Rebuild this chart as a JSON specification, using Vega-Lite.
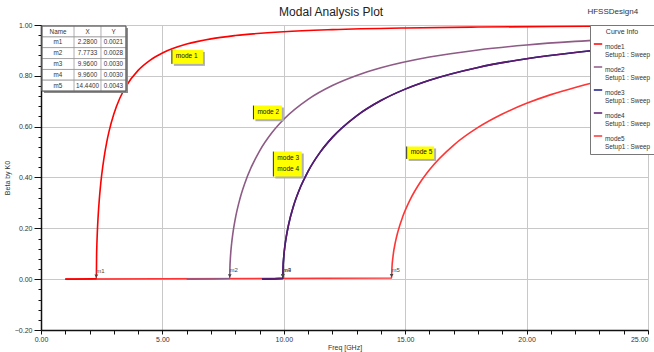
{
  "$schema": "https://vega.github.io/schema/vega-lite/v6.json",
  "width": 607,
  "height": 305,
  "autosize": {"type": "none"},
  "padding": {"left": 41, "top": 25, "right": 6, "bottom": 22},
  "background": "white",
  "config": {
    "font": "Liberation Sans",
    "view": {"stroke": "#999"},
    "axis": {"labelFont": "Liberation Sans", "titleFont": "Liberation Sans", "labelFontSize": 7, "titleFontSize": 7, "titleFontWeight": "normal", "labelColor": "#333", "titleColor": "#333", "domainColor": "#111", "domainWidth": 1.5, "tickColor": "#111"}
  },
  "resolve": {"axis": {"x": "independent", "y": "independent"}},
  "datasets": {
    "curves": [
      {"mode": "mode1", "f": 1.0, "beta": 0},
      {"mode": "mode1", "f": 2.28, "beta": 0.0021},
      {"mode": "mode1", "f": 2.29, "beta": 0.0934},
      {"mode": "mode1", "f": 2.30, "beta": 0.1316},
      {"mode": "mode1", "f": 2.32, "beta": 0.1849},
      {"mode": "mode1", "f": 2.35, "beta": 0.2423},
      {"mode": "mode1", "f": 2.40, "beta": 0.3122},
      {"mode": "mode1", "f": 2.45, "beta": 0.3660},
      {"mode": "mode1", "f": 2.5, "beta": 0.4102},
      {"mode": "mode1", "f": 2.6, "beta": 0.4806},
      {"mode": "mode1", "f": 2.7, "beta": 0.5356},
      {"mode": "mode1", "f": 2.8, "beta": 0.5805},
      {"mode": "mode1", "f": 3.0, "beta": 0.6499},
      {"mode": "mode1", "f": 3.25, "beta": 0.7126},
      {"mode": "mode1", "f": 3.5, "beta": 0.7587},
      {"mode": "mode1", "f": 4.0, "beta": 0.8216},
      {"mode": "mode1", "f": 4.5, "beta": 0.8621},
      {"mode": "mode1", "f": 5.0, "beta": 0.8900},
      {"mode": "mode1", "f": 6.0, "beta": 0.9250},
      {"mode": "mode1", "f": 7.0, "beta": 0.9455},
      {"mode": "mode1", "f": 8.0, "beta": 0.9585},
      {"mode": "mode1", "f": 10.0, "beta": 0.9737},
      {"mode": "mode1", "f": 12.0, "beta": 0.9818},
      {"mode": "mode1", "f": 15.0, "beta": 0.9884},
      {"mode": "mode1", "f": 18.0, "beta": 0.9919},
      {"mode": "mode1", "f": 21.0, "beta": 0.9941},
      {"mode": "mode1", "f": 25.0, "beta": 0.9958},
      {"mode": "mode2", "f": 6.0, "beta": 0},
      {"mode": "mode2", "f": 7.7733, "beta": 0.0028},
      {"mode": "mode2", "f": 7.78, "beta": 0.0415},
      {"mode": "mode2", "f": 7.80, "beta": 0.0827},
      {"mode": "mode2", "f": 7.85, "beta": 0.1395},
      {"mode": "mode2", "f": 7.9, "beta": 0.1784},
      {"mode": "mode2", "f": 8.0, "beta": 0.2364},
      {"mode": "mode2", "f": 8.2, "beta": 0.3184},
      {"mode": "mode2", "f": 8.5, "beta": 0.4046},
      {"mode": "mode2", "f": 9.0, "beta": 0.5040},
      {"mode": "mode2", "f": 9.5, "beta": 0.5749},
      {"mode": "mode2", "f": 10.0, "beta": 0.6291},
      {"mode": "mode2", "f": 11.0, "beta": 0.7075},
      {"mode": "mode2", "f": 12.0, "beta": 0.7618},
      {"mode": "mode2", "f": 13.0, "beta": 0.8015},
      {"mode": "mode2", "f": 14.0, "beta": 0.8317},
      {"mode": "mode2", "f": 16.0, "beta": 0.8741},
      {"mode": "mode2", "f": 18.0, "beta": 0.9019},
      {"mode": "mode2", "f": 20.0, "beta": 0.9214},
      {"mode": "mode2", "f": 22.0, "beta": 0.9355},
      {"mode": "mode2", "f": 25.0, "beta": 0.9504},
      {"mode": "mode3", "f": 9.1, "beta": 0},
      {"mode": "mode3", "f": 9.96, "beta": 0.0030},
      {"mode": "mode3", "f": 9.97, "beta": 0.0448},
      {"mode": "mode3", "f": 10.0, "beta": 0.0894},
      {"mode": "mode3", "f": 10.05, "beta": 0.1335},
      {"mode": "mode3", "f": 10.1, "beta": 0.1659},
      {"mode": "mode3", "f": 10.2, "beta": 0.2157},
      {"mode": "mode3", "f": 10.4, "beta": 0.2878},
      {"mode": "mode3", "f": 10.7, "beta": 0.3654},
      {"mode": "mode3", "f": 11.0, "beta": 0.4244},
      {"mode": "mode3", "f": 11.5, "beta": 0.4999},
      {"mode": "mode3", "f": 12.0, "beta": 0.5578},
      {"mode": "mode3", "f": 13.0, "beta": 0.6427},
      {"mode": "mode3", "f": 14.0, "beta": 0.7028},
      {"mode": "mode3", "f": 15.0, "beta": 0.7477},
      {"mode": "mode3", "f": 16.0, "beta": 0.7826},
      {"mode": "mode3", "f": 18.0, "beta": 0.8330},
      {"mode": "mode3", "f": 20.0, "beta": 0.8672},
      {"mode": "mode3", "f": 22.0, "beta": 0.8916},
      {"mode": "mode3", "f": 25.0, "beta": 0.9172},
      {"mode": "mode4", "f": 9.1, "beta": 0},
      {"mode": "mode4", "f": 9.96, "beta": 0.0030},
      {"mode": "mode4", "f": 9.97, "beta": 0.0448},
      {"mode": "mode4", "f": 10.0, "beta": 0.0894},
      {"mode": "mode4", "f": 10.05, "beta": 0.1335},
      {"mode": "mode4", "f": 10.1, "beta": 0.1659},
      {"mode": "mode4", "f": 10.2, "beta": 0.2157},
      {"mode": "mode4", "f": 10.4, "beta": 0.2878},
      {"mode": "mode4", "f": 10.7, "beta": 0.3654},
      {"mode": "mode4", "f": 11.0, "beta": 0.4244},
      {"mode": "mode4", "f": 11.5, "beta": 0.4999},
      {"mode": "mode4", "f": 12.0, "beta": 0.5578},
      {"mode": "mode4", "f": 13.0, "beta": 0.6427},
      {"mode": "mode4", "f": 14.0, "beta": 0.7028},
      {"mode": "mode4", "f": 15.0, "beta": 0.7477},
      {"mode": "mode4", "f": 16.0, "beta": 0.7826},
      {"mode": "mode4", "f": 18.0, "beta": 0.8330},
      {"mode": "mode4", "f": 20.0, "beta": 0.8672},
      {"mode": "mode4", "f": 22.0, "beta": 0.8916},
      {"mode": "mode4", "f": 25.0, "beta": 0.9172},
      {"mode": "mode5", "f": 1.0, "beta": 0},
      {"mode": "mode5", "f": 14.44, "beta": 0.0043},
      {"mode": "mode5", "f": 14.45, "beta": 0.0372},
      {"mode": "mode5", "f": 14.5, "beta": 0.0909},
      {"mode": "mode5", "f": 14.6, "beta": 0.1476},
      {"mode": "mode5", "f": 14.7, "beta": 0.1872},
      {"mode": "mode5", "f": 14.9, "beta": 0.2466},
      {"mode": "mode5", "f": 15.2, "beta": 0.3122},
      {"mode": "mode5", "f": 15.6, "beta": 0.3784},
      {"mode": "mode5", "f": 16.0, "beta": 0.4307},
      {"mode": "mode5", "f": 17.0, "beta": 0.5277},
      {"mode": "mode5", "f": 18.0, "beta": 0.5970},
      {"mode": "mode5", "f": 19.0, "beta": 0.6499},
      {"mode": "mode5", "f": 20.0, "beta": 0.6919},
      {"mode": "mode5", "f": 21.0, "beta": 0.7261},
      {"mode": "mode5", "f": 22.0, "beta": 0.7544},
      {"mode": "mode5", "f": 23.0, "beta": 0.7784},
      {"mode": "mode5", "f": 24.0, "beta": 0.7988},
      {"mode": "mode5", "f": 25.0, "beta": 0.8163}
    ],
    "markers": [
      {"m": "m1", "f": 2.28, "beta": 0.0021},
      {"m": "m2", "f": 7.7733, "beta": 0.0028},
      {"m": "m3", "f": 9.96, "beta": 0.0030},
      {"m": "m4", "f": 9.96, "beta": 0.0030},
      {"m": "m5", "f": 14.44, "beta": 0.0043}
    ],
    "notes": [
      {"label": "mode 1", "x1": 5.39, "x2": 6.67, "y1": 0.902, "y2": 0.847},
      {"label": "mode 2", "x1": 8.75, "x2": 9.92, "y1": 0.683, "y2": 0.629},
      {"label": "mode 3\nmode 4", "x1": 9.57, "x2": 10.74, "y1": 0.502, "y2": 0.404},
      {"label": "mode 5", "x1": 15.06, "x2": 16.19, "y1": 0.522, "y2": 0.473}
    ],
    "table": [
      {"Name": "Name", "X": "X", "Y": "Y", "top": 0.996, "bottom": 0.953},
      {"Name": "m1", "X": "2.2800", "Y": "0.0021", "top": 0.953, "bottom": 0.911},
      {"Name": "m2", "X": "7.7733", "Y": "0.0028", "top": 0.911, "bottom": 0.868},
      {"Name": "m3", "X": "9.9600", "Y": "0.0030", "top": 0.868, "bottom": 0.825},
      {"Name": "m4", "X": "9.9600", "Y": "0.0030", "top": 0.825, "bottom": 0.783},
      {"Name": "m5", "X": "14.4400", "Y": "0.0043", "top": 0.783, "bottom": 0.740}
    ],
    "titles": [
      {"t": "Modal Analysis Plot", "x": 11.95, "y": 1.051, "size": "big"},
      {"t": "HFSSDesign4", "x": 23.55, "y": 1.051, "size": "small"}
    ]
  },
  "layer": [
    {
      "data": {"name": "curves"},
      "transform": [{"filter": "datum.mode == 'mode5'"}],
      "mark": {"type": "line", "strokeWidth": 1.6, "interpolate": "monotone"},
      "encoding": {
        "x": {"field": "f", "type": "quantitative", "scale": {"domain": [0, 25], "nice": false, "zero": false},
          "axis": {"title": "Freq [GHz]", "orient": "bottom", "values": [0, 5, 10, 15, 20, 25], "format": ".2f",
            "labelOverlap": false, "labelBound": false, "labelFlush": false,
            "labelAlign": {"condition": {"test": "datum.value >= 25", "value": "right"}, "value": "center"},
            "tickSize": 4, "labelPadding": 1, "titlePadding": 1, "gridColor": "#c8c8c8", "zindex": 0}},
        "y": {"field": "beta", "type": "quantitative", "scale": {"domain": [-0.2, 1.0], "nice": false, "zero": false},
          "axis": {"title": "Beta by K0", "orient": "left", "values": [-0.2, 0, 0.2, 0.4, 0.6, 0.8, 1.0], "format": ".2f",
            "labelOverlap": false, "labelBound": false, "labelFlush": false,
            "tickSize": 7, "labelPadding": 2, "titlePadding": 4, "gridColor": "#c8c8c8", "zindex": 0}},
        "color": {"field": "mode", "type": "nominal",
          "scale": {"domain": ["mode1", "mode2", "mode3", "mode4", "mode5"], "range": ["#ff0000", "#8e5a86", "#1a1a8c", "#5c1a6c", "#ff3535"]},
          "legend": {"orient": "none", "legendX": 549, "legendY": 0, "title": "Curve Info", "titleFontSize": 7, "titleFontWeight": "normal", "titleColor": "#333", "titleAnchor": "middle", "titlePadding": 4,
            "fillColor": "white", "strokeColor": "#777", "padding": 3, "labelFontSize": 6.4, "labelColor": "#333", "labelLimit": 80,
            "labelExpr": "[datum.label, 'Setup1 : Sweep']", "symbolType": "stroke", "symbolStrokeWidth": 1.5, "symbolSize": 70, "rowPadding": 3, "labelOffset": 2, "labelBaseline": "top"}}
      }
    },
    {
      "data": {"name": "curves"},
      "transform": [{"filter": "datum.mode != 'mode5'"}],
      "mark": {"type": "line", "strokeWidth": 1.6, "interpolate": "monotone"},
      "encoding": {
        "x": {"field": "f", "type": "quantitative",
          "axis": {"title": null, "orient": "bottom", "values": [1,2,3,4,6,7,8,9,11,12,13,14,16,17,18,19,21,22,23,24], "labels": false, "domain": false, "tickSize": 4, "gridColor": "#e3e3e3", "zindex": 0}},
        "y": {"field": "beta", "type": "quantitative",
          "axis": {"title": null, "orient": "left", "values": [-0.16,-0.12,-0.08,-0.04,0.04,0.08,0.12,0.16,0.24,0.28,0.32,0.36,0.44,0.48,0.52,0.56,0.64,0.68,0.72,0.76,0.84,0.88,0.92,0.96], "labels": false, "domain": false, "tickSize": 3, "gridColor": "#e3e3e3", "zindex": 0}},
        "color": {"field": "mode", "type": "nominal"}
      }
    },
    {
      "data": {"name": "markers"},
      "mark": {"type": "point", "shape": "triangle-down", "filled": true, "size": 14, "color": "#444", "yOffset": -2.5, "opacity": 1},
      "encoding": {"x": {"field": "f", "type": "quantitative", "axis": null}, "y": {"field": "beta", "type": "quantitative", "axis": null}}
    },
    {
      "data": {"name": "markers"},
      "mark": {"type": "text", "fontSize": 6, "color": "#444", "dx": 4, "dy": -8},
      "encoding": {"x": {"field": "f", "type": "quantitative", "axis": null}, "y": {"field": "beta", "type": "quantitative", "axis": null}, "text": {"field": "m"}}
    },
    {
      "data": {"name": "notes"},
      "mark": {"type": "rect", "color": "#b0b0b0", "xOffset": 2, "x2Offset": 2, "yOffset": 2, "y2Offset": 2},
      "encoding": {"x": {"field": "x1", "type": "quantitative", "axis": null}, "x2": {"field": "x2"}, "y": {"field": "y1", "type": "quantitative", "axis": null}, "y2": {"field": "y2"}}
    },
    {
      "data": {"name": "notes"},
      "mark": {"type": "rect", "color": "#ffff00"},
      "encoding": {"x": {"field": "x1", "type": "quantitative", "axis": null}, "x2": {"field": "x2"}, "y": {"field": "y1", "type": "quantitative", "axis": null}, "y2": {"field": "y2"}}
    },
    {
      "data": {"name": "notes"},
      "mark": {"type": "rule", "color": "#333", "strokeWidth": 1},
      "encoding": {"x": {"field": "x1", "type": "quantitative", "axis": null}, "y": {"field": "y1", "type": "quantitative", "axis": null}, "y2": {"field": "y2"}}
    },
    {
      "data": {"name": "notes"},
      "mark": {"type": "text", "fontSize": 6.5, "color": "#111", "align": "left", "baseline": "top", "dx": 4, "dy": 3, "lineBreak": "\n", "lineHeight": 11},
      "encoding": {"x": {"field": "x1", "type": "quantitative", "axis": null}, "y": {"field": "y1", "type": "quantitative", "axis": null}, "text": {"field": "label"}}
    },
    {
      "data": {"values": [{"t": "table"}]},
      "mark": {"type": "rect", "color": "#8a8a8a", "xOffset": 2, "x2Offset": 2, "yOffset": 2, "y2Offset": 2},
      "encoding": {"x": {"datum": 0.04, "type": "quantitative", "axis": null}, "x2": {"datum": 3.5}, "y": {"datum": 0.996, "type": "quantitative", "axis": null}, "y2": {"datum": 0.740}}
    },
    {
      "data": {"name": "table"},
      "mark": {"type": "rect", "fill": "white", "stroke": "#9a9a9a", "strokeWidth": 0.8},
      "encoding": {"x": {"datum": 0.04, "type": "quantitative", "axis": null}, "x2": {"datum": 3.5}, "y": {"field": "top", "type": "quantitative", "axis": null}, "y2": {"field": "bottom"}}
    },
    {
      "data": {"values": [{"c": 1.36}, {"c": 2.47}]},
      "mark": {"type": "rule", "color": "#9a9a9a", "strokeWidth": 0.8},
      "encoding": {"x": {"field": "c", "type": "quantitative", "axis": null}, "y": {"datum": 0.996, "type": "quantitative", "axis": null}, "y2": {"datum": 0.740}}
    },
    {
      "data": {"values": [{"t": "table"}]},
      "mark": {"type": "rect", "fillOpacity": 0, "stroke": "#555", "strokeWidth": 1},
      "encoding": {"x": {"datum": 0.04, "type": "quantitative", "axis": null}, "x2": {"datum": 3.5}, "y": {"datum": 0.996, "type": "quantitative", "axis": null}, "y2": {"datum": 0.740}}
    },
    {
      "data": {"name": "table"},
      "mark": {"type": "text", "fontSize": 6.3, "color": "#333", "baseline": "top", "dy": 2.5},
      "encoding": {"x": {"datum": 0.70, "type": "quantitative", "axis": null}, "y": {"field": "top", "type": "quantitative", "axis": null}, "text": {"field": "Name"}}
    },
    {
      "data": {"name": "table"},
      "mark": {"type": "text", "fontSize": 6.3, "color": "#333", "baseline": "top", "dy": 2.5},
      "encoding": {"x": {"datum": 1.915, "type": "quantitative", "axis": null}, "y": {"field": "top", "type": "quantitative", "axis": null}, "text": {"field": "X"}}
    },
    {
      "data": {"name": "table"},
      "mark": {"type": "text", "fontSize": 6.3, "color": "#333", "baseline": "top", "dy": 2.5},
      "encoding": {"x": {"datum": 2.985, "type": "quantitative", "axis": null}, "y": {"field": "top", "type": "quantitative", "axis": null}, "text": {"field": "Y"}}
    },
    {
      "data": {"name": "titles"},
      "transform": [{"filter": "datum.size == 'big'"}],
      "mark": {"type": "text", "fontSize": 12, "color": "#222", "baseline": "middle"},
      "encoding": {"x": {"field": "x", "type": "quantitative", "axis": null}, "y": {"field": "y", "type": "quantitative", "axis": null}, "text": {"field": "t"}}
    },
    {
      "data": {"name": "titles"},
      "transform": [{"filter": "datum.size == 'small'"}],
      "mark": {"type": "text", "fontSize": 8, "color": "#333", "baseline": "middle"},
      "encoding": {"x": {"field": "x", "type": "quantitative", "axis": null}, "y": {"field": "y", "type": "quantitative", "axis": null}, "text": {"field": "t"}}
    }
  ]
}
